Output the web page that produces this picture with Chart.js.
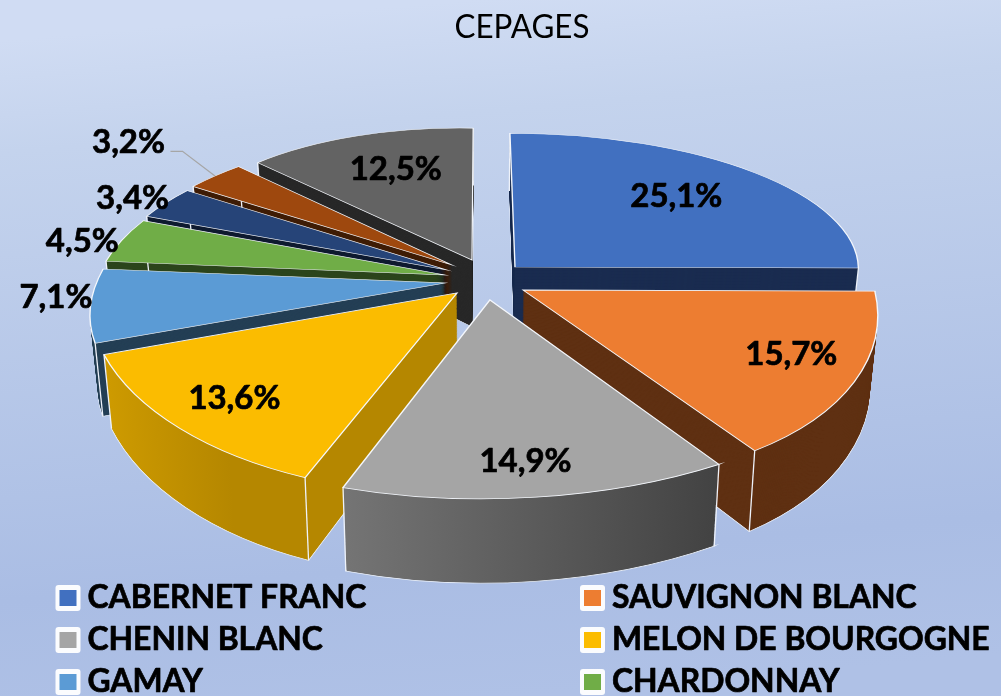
<!DOCTYPE html>
<html><head><meta charset="utf-8">
<script src="https://cdn.jsdelivr.net/npm/chart.js@4"></script>
<style>html,body{margin:0;padding:0;background:#b8c9ea;overflow:hidden}canvas{display:block}</style>
</head><body><canvas id="c" width="1001" height="696"></canvas>
<script>
// ---- data ----
const categories = ['CABERNET FRANC','SAUVIGNON BLANC','CHENIN BLANC','MELON DE BOURGOGNE','GAMAY','CHARDONNAY','AUTRE A','AUTRE B','AUTRE C'];
const shares = [25.1,15.7,14.9,13.6,7.1,4.5,3.4,3.2,12.5];
const chartTitle = 'CEPAGES';
const legendCount = 6;
// ---- style ----
const topColors = ['#4170c0','#ed7d31','#a5a5a5','#fbbc00','#5b9bd5','#70ad47','#264478','#9e480e','#636363'];
const rimColors = ['#1a2c50','#5f3012',null,null,'#243f55','#2c451c','#0f1b30','#3f1d06','#282828'];
const rimGrad = {2:['#7a7a7a','#3e3e3e',344,718],3:['#dba500','#b58700',104,305]};
// per-slice explosion on the pie's ground plane (unit = pie radius)
const explodeX = [.102,.122,.028,-.065,-.100,-.101,-.096,-.082,-.0235];
const explodeY = [.0507,-.0928,-.153,-.111,-.05,0,.0316,.0637,.0957];
const labelRadius = [.65,.80,.85,.80,1.10,1.06,1.07,1.37,.65];
const labelNudge = [[17,-4],[1,-3],[-5,-4],[1,2],[2,-10],[-21,3],[-15,0],[-10,-5],[0,-6]];
const paintOrder = [0,8,7,6,5,4,1,3,2];
// camera
const view = {cx:480,cy:275,sx:346,h:159,q:.17,depth:68,shrink:.02};
const FONT = 'Lato, "Open Sans", sans-serif';

function project(X,Y,z){
  const s = 1/(1+view.q*Y);
  return [view.cx+view.sx*X*s*(1-view.shrink*z), view.cy-view.h*Y*s+view.depth*s*z];
}
function drawSlice(ctx,arc,i,z,bg,bc,bw){
  const p = arc.getProps(['x','y','startAngle','endAngle','outerRadius'],true);
  const R = p.outerRadius, a0=p.startAngle, a1=p.endAngle;
  const g = t => { const th=t+Math.PI/2; return [Math.sin(th),Math.cos(th)]; };
  const e0=g(a0), e1=g(a1);
  const P = project(explodeX[i],explodeY[i],z);
  const Q0 = project(explodeX[i]+e0[0],explodeY[i]+e0[1],z);
  const Q1 = project(explodeX[i]+e1[0],explodeY[i]+e1[1],z);
  const ux=R*Math.cos(a0), uy=R*Math.sin(a0), vx=R*Math.cos(a1), vy=R*Math.sin(a1);
  const det=ux*vy-uy*vx;
  const A=[Q0[0]-P[0],Q0[1]-P[1]], B=[Q1[0]-P[0],Q1[1]-P[1]];
  const a=(A[0]*vy-B[0]*uy)/det, c=(B[0]*ux-A[0]*vx)/det;
  const b=(A[1]*vy-B[1]*uy)/det, d=(B[1]*ux-A[1]*vx)/det;
  ctx.save();
  ctx.transform(a,b,c,d,P[0]-a*p.x-c*p.y,P[1]-b*p.x-d*p.y);
  const saved=arc.options;
  arc.options={backgroundColor:bg,borderColor:bc,borderWidth:bw,borderAlign:'center',offset:0,spacing:0,borderRadius:0,borderJoinStyle:'miter',borderDash:[],borderDashOffset:0,circular:true};
  arc.draw(ctx);
  arc.options=saved;
  ctx.restore();
  return [[explodeX[i]+e0[0],explodeY[i]+e0[1]],[explodeX[i]+e1[0],explodeY[i]+e1[1]]];
}
function text(ctx,str,x,y,sx,stroke){
  ctx.save();ctx.translate(x,y);ctx.scale(sx,1);
  ctx.fillText(str,0,0);
  if(stroke){ctx.lineWidth=stroke;ctx.strokeStyle='#000';ctx.lineJoin='round';ctx.strokeText(str,0,0);}
  ctx.restore();
}
const pie3d = {
  id:'pie3d',
  beforeDraw(chart){
    const ctx=chart.ctx,W=chart.width,H=chart.height;
    const g=ctx.createLinearGradient(470,0,530,H);
    g.addColorStop(0,'#d0dcf3');
    g.addColorStop(.16,'#c4d3ed');
    g.addColorStop(.80,'#aabde4');
    g.addColorStop(1,'#afc1e6');
    ctx.fillStyle=g;ctx.fillRect(0,0,W,H);
  },
  beforeDatasetDraw(chart,args){
    const ctx=chart.ctx, arcs=args.meta.data;
    paintOrder.forEach(i=>{
      const arc=arcs[i];
      let rim=rimColors[i];
      if(rimGrad[i]){
        const r=rimGrad[i], gr=ctx.createLinearGradient(r[2],0,r[3],0);
        gr.addColorStop(0,r[0]);gr.addColorStop(1,r[1]);rim=gr;
      }
      const n=90;
      let pts;
      for(let k=n;k>0;k--){
        pts=drawSlice(ctx,arc,i,k/n,rim,k===n?'#e8eef8':rim,k===n?1.2:0);
      }
      // corner edges of the wall, under the top face
      ctx.save();ctx.strokeStyle='#eef2fa';ctx.lineWidth=1.3;
      pts.forEach(pt=>{
        const a=project(pt[0],pt[1],0),b=project(pt[0],pt[1],1);
        ctx.beginPath();ctx.moveTo(a[0],a[1]);ctx.lineTo(b[0],b[1]);ctx.stroke();
      });
      ctx.restore();
      drawSlice(ctx,arc,i,0,topColors[i],'#f4f7fc',1.4);
    });
    return false;
  },
  afterDatasetsDraw(chart,args){
    const ctx=chart.ctx, arcs=chart.getDatasetMeta(0).data;
    ctx.save();
    ctx.fillStyle='#000';ctx.textAlign='center';ctx.textBaseline='middle';
    ctx.font='33px '+FONT;text(ctx,chartTitle,522,27,.95,0);
    ctx.font='bold 32px '+FONT;
    shares.forEach((v,i)=>{
      const a=arcs[i];
      const th=(a.startAngle+a.endAngle)/2+Math.PI/2;
      const f=labelRadius[i];
      const p=project(explodeX[i]+f*Math.sin(th),explodeY[i]+f*Math.cos(th),0);
      const x=p[0]+labelNudge[i][0],y=p[1]+labelNudge[i][1];
      ctx.fillStyle='#000';
      text(ctx,v.toFixed(1).replace('.',',')+'%',x,y,1.03,.7);
      if(i===7){
        const e=project(explodeX[i]+Math.sin(th),explodeY[i]+Math.cos(th),0);
        ctx.strokeStyle='#a6a6a6';ctx.lineWidth=1.2;ctx.beginPath();
        ctx.moveTo(x+42,y+9);ctx.lineTo(x+54,y+9);ctx.lineTo(e[0],e[1]);ctx.stroke();
      }
    });
    ctx.textAlign='left';
    for(let i=0;i<legendCount;i++){
      const col=i%2,row=(i-col)/2;
      const bx=col?580:55.5, by=585+row*42;
      ctx.fillStyle='#fbfcfe';ctx.beginPath();ctx.roundRect(bx,by,25,26,3);ctx.fill();
      ctx.fillStyle=topColors[i];ctx.fillRect(bx+4,by+5,17,16);
      ctx.fillStyle='#000';text(ctx,categories[i],bx+32,by+13,.995,.7);
    }
    ctx.restore();
  }
};
new Chart(document.getElementById('c'),{
  type:'pie',
  data:{labels:categories,datasets:[{data:shares,backgroundColor:topColors}]},
  options:{responsive:false,animation:false,plugins:{legend:{display:false},tooltip:{enabled:false},title:{display:false}}},
  plugins:[pie3d]
});
</script></body></html>
